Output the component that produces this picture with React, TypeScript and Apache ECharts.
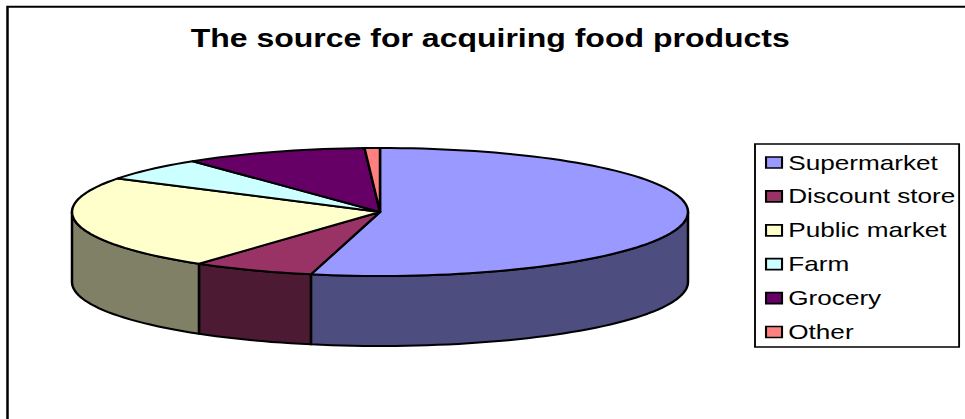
import React, { useEffect, useRef } from "react";
import * as echarts from "echarts";

const titleText = "The source for acquiring food products";
const categories = ["Supermarket", "Discount store", "Public market", "Farm", "Grocery", "Other"];
const shares = [53.6, 6.4, 23.8, 5.8, 9.6, 0.8];
const sliceColors = ["#9999FF", "#993366", "#FFFFCC", "#CCFFFF", "#660066", "#FF8080"];

// The drawing is laid out on a narrower canvas and widened by CSS,
// which gives the type and the pie their wide proportions.
const CANVAS_W = 775;
const CANVAS_H = 419;
const STRETCH = 965 / CANVAS_W;
const px = (x: number) => x / STRETCH;

const CX = px(380);
const CY = 212;
const RX = px(308);
const RY = 64;
const DEPTH = 70;
const STEPS_PER_DEGREE = 0.5;

// Position on the tilted rim; 0 degrees is the top of the ellipse, clockwise.
const rim = (deg: number, drop = 0): number[] => {
  const a = (deg * Math.PI) / 180;
  return [CX + RX * Math.sin(a), CY - RY * Math.cos(a) + drop];
};

const arcPoints = (from: number, to: number, drop = 0): number[][] => {
  const n = Math.max(2, Math.ceil(Math.abs(to - from) * STEPS_PER_DEGREE));
  const out: number[][] = [];
  for (let i = 0; i <= n; i++) out.push(rim(from + ((to - from) * i) / n, drop));
  return out;
};

const total = shares.reduce((s, v) => s + v, 0);

const renderSlice = (_params: any, api: any) => {
  const before = api.value(0) as number;
  const value = api.value(1) as number;
  const start = (before / total) * 360;
  const end = ((before + value) / total) * 360;
  const color = api.visual("color") as string;
  const children: any[] = [];

  // Only the part of the slice facing the viewer shows a wall.
  const wallFrom = Math.max(start, 90);
  const wallTo = Math.min(end, 270);
  if (wallTo > wallFrom) {
    children.push({
      type: "polygon",
      shape: {
        points: [...arcPoints(wallFrom, wallTo), ...arcPoints(wallTo, wallFrom, DEPTH)],
      },
      style: { fill: echarts.color.lerp(0.5, ["#000000", color]), stroke: "#000", lineWidth: 2, lineJoin: "round" },
    });
  }
  children.push({
    type: "polygon",
    shape: { points: [[CX, CY], ...arcPoints(start, end)] },
    style: { fill: color, stroke: "#000", lineWidth: 2, lineJoin: "round" },
  });
  return { type: "group", children };
};

export default function App() {
  const ref = useRef<HTMLDivElement>(null);

  useEffect(() => {
    const chart = echarts.init(ref.current!, null, { renderer: "svg" });
    let running = 0;
    const series = categories.map((name, i) => {
      const item = [running, shares[i]];
      running += shares[i];
      return {
        type: "custom" as const,
        name,
        coordinateSystem: "none",
        silent: true,
        renderItem: renderSlice,
        data: [item],
      };
    });
    chart.setOption({
      animation: false,
      backgroundColor: "#FFFFFF",
      color: sliceColors,
      textStyle: { fontFamily: "Liberation Sans" },
      title: {
        text: titleText,
        left: px(484),
        top: 20,
        textAlign: "center",
        textStyle: { fontFamily: "Liberation Sans", fontWeight: "bold", fontSize: 25.7, color: "#000" },
      },
      legend: {
        orient: "vertical",
        left: px(755),
        top: 144,
        padding: [8, 3, 4.5, 8],
        itemGap: 12.9,
        itemWidth: px(16),
        itemHeight: 11,
        icon: "rect",
        borderColor: "#000",
        borderWidth: 1.5,
        selectedMode: false,
        itemStyle: { borderColor: "#000", borderWidth: 1.7 },
        textStyle: { fontFamily: "Liberation Sans", fontSize: 21, color: "#000" },
        data: categories,
      },
      graphic: [
        {
          type: "polyline",
          silent: true,
          shape: {
            points: [
              [px(7.5), CANVAS_H],
              [px(7.5), 6.7],
              [CANVAS_W, 6.7],
            ],
          },
          style: { stroke: "#000", lineWidth: 2, fill: "none" },
        },
      ],
      series,
    });
    return () => chart.dispose();
  }, []);

  return (
    <div
      ref={ref}
      style={{
        position: "absolute",
        left: 0,
        top: 0,
        width: CANVAS_W,
        height: CANVAS_H,
        transformOrigin: "0 0",
        transform: `scaleX(${STRETCH})`,
      }}
    />
  );
}
